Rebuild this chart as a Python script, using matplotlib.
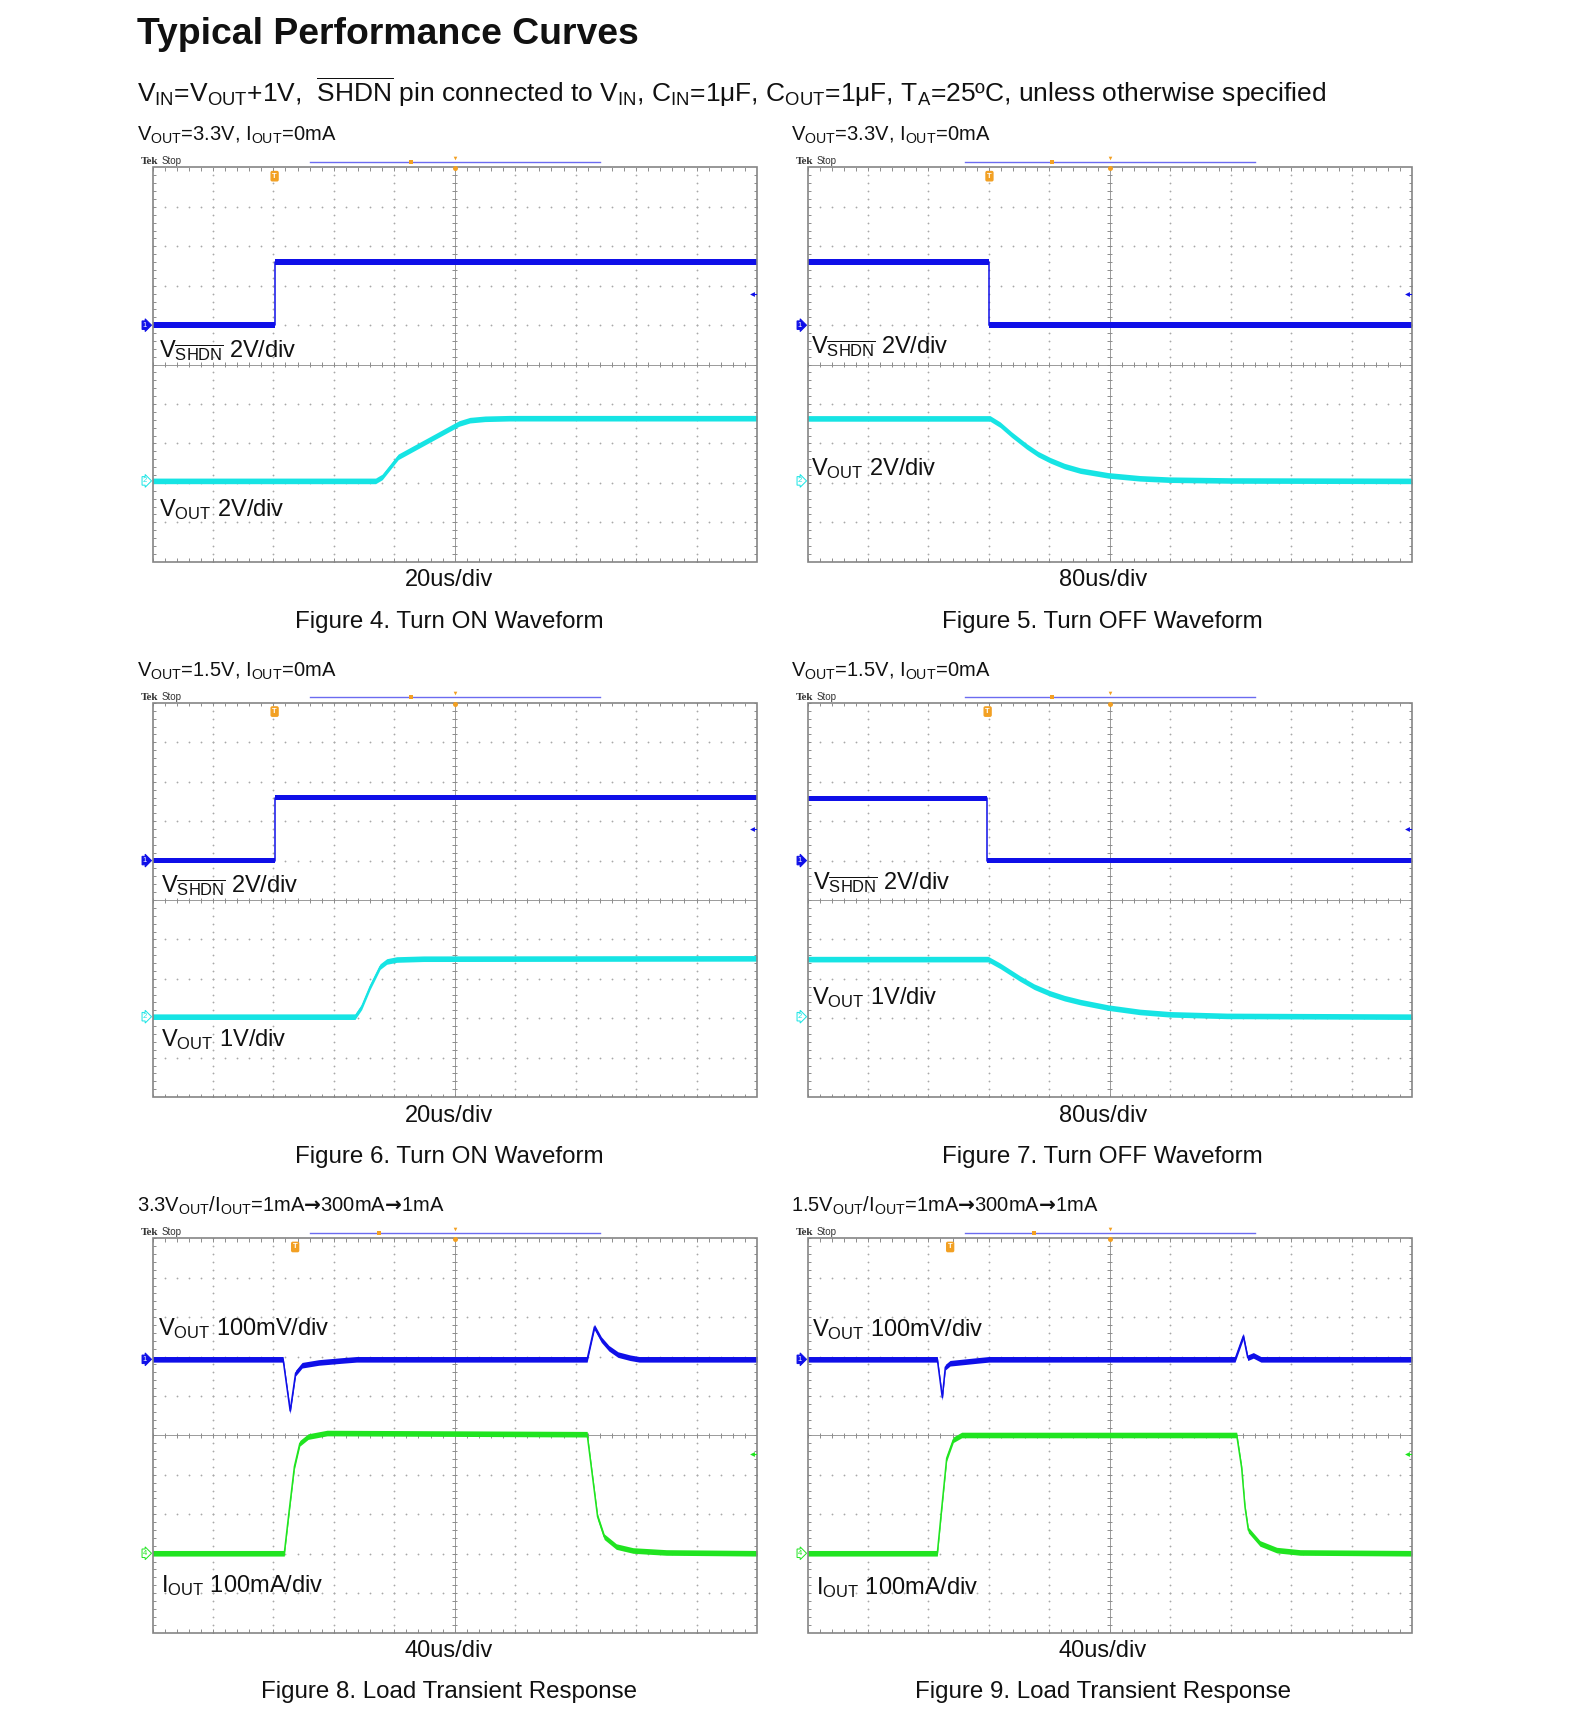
import numpy as np
import matplotlib
matplotlib.use("Agg")
import matplotlib.pyplot as plt
from matplotlib.collections import LineCollection
from matplotlib.patches import Rectangle

plt.rcParams['font.family'] = ['Liberation Sans', 'DejaVu Sans']
plt.rcParams['mathtext.fontset'] = 'custom'
plt.rcParams['mathtext.rm'] = 'Liberation Sans'
plt.rcParams['mathtext.it'] = 'Liberation Sans:italic'
plt.rcParams['mathtext.bf'] = 'DejaVu Sans:bold'
plt.rcParams['mathtext.sf'] = 'Liberation Sans'

# ---------------- data ----------------
# Figure 4 : turn on, VOUT=3.3V, 20us/div
fig4_shdn_t_us = [0, 40.6, 40.6, 200]
fig4_shdn_v = [0, 0, 3.2, 3.2]
fig4_vout_t_us = [0, 73.8, 76.0, 81.3, 101.4, 105.0, 110.0, 118.0, 200]
fig4_vout_v = [0, 0, 0.2, 1.22, 2.91, 3.08, 3.15, 3.18, 3.18]

# Figure 5 : turn off, VOUT=3.3V, 80us/div
fig5_shdn_t_us = [0, 240.8, 240.8, 800]
fig5_shdn_v = [3.2, 3.2, 0, 0]
fig5_vout_t_us = [0, 241.5, 255, 270, 290, 305, 321, 340, 361, 398, 440, 480, 560, 800]
fig5_vout_v = [3.17, 3.17, 2.85, 2.35, 1.75, 1.36, 1.05, 0.75, 0.52, 0.28, 0.13, 0.06, 0.02, 0.0]

# Figure 6 : turn on, VOUT=1.5V, 20us/div
fig6_shdn_t_us = [0, 40.6, 40.6, 200]
fig6_shdn_v = [0, 0, 3.2, 3.2]
fig6_vout_t_us = [0, 67.0, 69.2, 72.0, 75.3, 77.5, 80.8, 89.6, 200]
fig6_vout_v = [0, 0, 0.25, 0.76, 1.27, 1.40, 1.45, 1.47, 1.48]

# Figure 7 : turn off, VOUT=1.5V, 80us/div
fig7_shdn_t_us = [0, 238.0, 238.0, 800]
fig7_shdn_v = [3.15, 3.15, 0, 0]
fig7_vout_t_us = [0, 239, 255, 281, 300, 321, 340, 361, 398, 440, 480, 555, 800]
fig7_vout_v = [1.46, 1.46, 1.29, 0.97, 0.76, 0.59, 0.47, 0.37, 0.23, 0.12, 0.06, 0.02, 0.0]

# Figure 8 : load transient, 3.3V, 40us/div
fig8_vout_t_us = [0, 86.4, 91.1, 94.7, 99, 110, 125, 135, 287.6, 292.4, 297, 302, 308, 316, 322, 400]
fig8_vout_mv = [0, 0, -131, -35, -15, -8, -3, 0, 0, 82, 50, 28, 12, 4, 0, 0]
fig8_iout_t_us = [0, 87.2, 90.5, 93.9, 97.5, 103, 115.5, 287.6, 291.7, 294.5, 298.9, 306.9, 318, 340, 400]
fig8_iout_ma = [0, 0, 110, 220, 279, 296, 305, 302, 178, 93, 42, 17, 7, 2, 0]

# Figure 9 : load transient, 1.5V, 40us/div
fig9_vout_t_us = [0, 85.9, 89.2, 91.2, 94.3, 112, 120, 282.9, 288.4, 291.3, 295, 300, 400]
fig9_vout_mv = [0, 0, -97, -20, -10, -3, 0, 0, 59, 4, 10, 0, 0]
fig9_iout_t_us = [0, 85.9, 88.8, 92.1, 96.5, 102, 284, 287.3, 289.5, 291.7, 299.4, 310.5, 326, 400]
fig9_iout_ma = [0, 0, 114, 241, 288, 300, 300, 216, 117, 59, 25, 8, 2, 0]

# scope settings and texts
time_labels = ['20us/div', '80us/div', '20us/div', '80us/div', '40us/div', '40us/div']
captions = ['Figure 4. Turn ON Waveform', 'Figure 5. Turn OFF Waveform',
            'Figure 6. Turn ON Waveform', 'Figure 7. Turn OFF Waveform',
            'Figure 8. Load Transient Response', 'Figure 9. Load Transient Response']
ARROW = r'$\mathbf{→}$'
headers = [r'V$_{\mathrm{OUT}}$=3.3V, I$_{\mathrm{OUT}}$=0mA', r'V$_{\mathrm{OUT}}$=3.3V, I$_{\mathrm{OUT}}$=0mA',
           r'V$_{\mathrm{OUT}}$=1.5V, I$_{\mathrm{OUT}}$=0mA', r'V$_{\mathrm{OUT}}$=1.5V, I$_{\mathrm{OUT}}$=0mA',
           r'3.3V$_{\mathrm{OUT}}$/I$_{\mathrm{OUT}}$=1mA' + ARROW + '300mA' + ARROW + '1mA',
           r'1.5V$_{\mathrm{OUT}}$/I$_{\mathrm{OUT}}$=1mA' + ARROW + '300mA' + ARROW + '1mA']
SHDN = r'V$_{\overline{\mathrm{SHDN}}}$ 2V/div'
upper_labels = [SHDN, SHDN, SHDN, SHDN, r'V$_{\mathrm{OUT}}$ 100mV/div', r'V$_{\mathrm{OUT}}$ 100mV/div']
lower_labels = [r'V$_{\mathrm{OUT}}$ 2V/div', r'V$_{\mathrm{OUT}}$ 2V/div', r'V$_{\mathrm{OUT}}$ 1V/div',
                r'V$_{\mathrm{OUT}}$ 1V/div', r'I$_{\mathrm{OUT}}$ 100mA/div', r'I$_{\mathrm{OUT}}$ 100mA/div']

# ---------------- layout / style ----------------
W, H = 1569, 1720
PW, PH = 604.5, 394.2
COL_LEFT = [152.5, 807.5]
ROW_TOP = [167.5, 702.9, 1238.3]
ROW_PITCH = 535.4

BLUE = '#0f0fe8'
CYAN = '#16e4e4'
GREEN = '#20e420'
ORANGE = '#f2a023'
GRID = '#a8a8a8'
FRAME = '#858585'
TXT = '#111111'

fig = plt.figure(figsize=(W / 100, H / 100), dpi=100)
fig.patch.set_facecolor('white')


def ftext(x, y, s, size, ha='left', va='baseline', **kw):
    fig.text(x / W, 1 - y / H, s, fontsize=size, ha=ha, va=va, color=kw.pop('color', TXT), **kw)


def label(x, yc, s, size, ha='left', **kw):
    base = yc + 0.355 * size * 100 / 72
    ftext(x, base, s, size, ha=ha, **kw)


def dxp(px):
    return px / (PW / 10)


def dyp(px):
    return px / (PH / 10)


def draw_screen(left, top, traces, trig_x, bar_mark_x, level_y, level_color, markers):
    ax = fig.add_axes([left / W, 1 - (top + PH) / H, PW / W, PH / H])
    ax.set_xlim(0, 10)
    ax.set_ylim(0, 10)
    ax.axis('off')
    fine = np.arange(0, 10.001, 0.2)
    for i in range(1, 10):
        if i == 5:
            continue
        ax.plot(np.full_like(fine, i), fine, ls='none', marker='o', ms=1.3, mew=0, color=GRID)
        ax.plot(fine, np.full_like(fine, i), ls='none', marker='o', ms=1.3, mew=0, color=GRID)
    ax.plot([5, 5], [0, 10], color='#9a9a9a', lw=0.7)
    ax.plot([0, 10], [5, 5], color='#9a9a9a', lw=0.7)
    segs = []
    for f in fine:
        segs.append([(5 - dxp(2.5), f), (5 + dxp(2.5), f)])
        segs.append([(f, 5 - dyp(2.5)), (f, 5 + dyp(2.5))])
        segs.append([(f, 0), (f, dyp(3.5))])
        segs.append([(f, 10), (f, 10 - dyp(3.5))])
        segs.append([(0, f), (dxp(3.5), f)])
        segs.append([(10, f), (10 - dxp(3.5), f)])
    ax.add_collection(LineCollection(segs, colors='#8c8c8c', linewidths=0.7))
    ax.add_patch(Rectangle((0, 0), 10, 10, fill=False, ec=FRAME, lw=1.2, clip_on=False, zorder=5))

    for t, v, tdiv, vdiv, ground, color in traces:
        x = np.asarray(t, float) / tdiv
        y = ground + np.asarray(v, float) / vdiv
        h = dyp(2.8)
        ax.fill_between(x, y - h, y + h, color=color, lw=0, zorder=3)
        ax.plot(x, y, color=color, lw=1.1, zorder=3)

    for txt, ground, color, filled in markers:
        ax.text(-0.09, ground, txt, ha='right', va='center', fontsize=5.5,
                color='white' if filled else color, clip_on=False, zorder=6,
                bbox=dict(boxstyle='rarrow,pad=0.1', fc=color if filled else 'white', ec=color, lw=0.7))

    ax.plot([9.92], [level_y], marker='<', ms=3.5, mew=0, color=level_color, clip_on=False, zorder=6)
    ax.plot([9.92, 9.99], [level_y, level_y], color=level_color, lw=0.8, clip_on=False, zorder=6)

    ax.plot([2.61, 7.41], [10.14, 10.14], color='#6b6bf0', lw=1.0, clip_on=False)
    ax.plot([bar_mark_x], [10.14], marker='s', ms=3.2, mew=0, color=ORANGE, clip_on=False)
    ax.plot([5], [10.24], marker='v', ms=2.6, mew=0, color=ORANGE, clip_on=False)
    ax.plot([5], [9.98], marker='o', ms=3.6, mew=0, color=ORANGE, clip_on=False, zorder=6)
    ax.text(trig_x, 9.78, 'T', fontsize=5.5, color='white', weight='bold', ha='center', va='center',
            zorder=6, bbox=dict(boxstyle='round,pad=0.15', fc=ORANGE, ec=ORANGE))
    fig.text((left - 12) / W, 1 - (top - 3) / H, 'Tek', fontsize=8, weight='bold',
             family='Liberation Serif', color='#333333', va='baseline')
    fig.text((left + 9) / W, 1 - (top - 3) / H, 'Stop', fontsize=7, family='Liberation Sans',
             color='#333333', va='baseline')


# ---------------- header ----------------
ftext(137, 44, 'Typical Performance Curves', 26.9, weight='bold')
label(137, 93, r'V$_{\mathrm{IN}}$=V$_{\mathrm{OUT}}$+1V,  $\overline{\mathrm{SHDN}}$ pin connected to V$_{\mathrm{IN}}$, '
      r'C$_{\mathrm{IN}}$=1μF, C$_{\mathrm{OUT}}$=1μF, T$_{\mathrm{A}}$=25ºC, unless otherwise specified', 19)

# ---------------- screens ----------------
screens = [
    dict(traces=[(fig4_shdn_t_us, fig4_shdn_v, 20, 2.0, 6.0, BLUE), (fig4_vout_t_us, fig4_vout_v, 20, 2.0, 2.05, CYAN)],
         trig=2.02, bar=4.28, lvl=6.79, lc=BLUE, marks=[('1', 6.0, BLUE, True), ('2', 2.05, CYAN, False)],
         up=(159, 349), lo=(159, 508)),
    dict(traces=[(fig5_shdn_t_us, fig5_shdn_v, 80, 2.0, 6.0, BLUE), (fig5_vout_t_us, fig5_vout_v, 80, 2.0, 2.05, CYAN)],
         trig=3.01, bar=4.05, lvl=6.79, lc=BLUE, marks=[('1', 6.0, BLUE, True), ('2', 2.05, CYAN, False)],
         up=(811, 344.5), lo=(811, 467)),
    dict(traces=[(fig6_shdn_t_us, fig6_shdn_v, 20, 2.0, 6.0, BLUE), (fig6_vout_t_us, fig6_vout_v, 20, 1.0, 2.04, CYAN)],
         trig=2.02, bar=4.28, lvl=6.79, lc=BLUE, marks=[('1', 6.0, BLUE, True), ('2', 2.04, CYAN, False)],
         up=(161, 884 - ROW_PITCH), lo=(161, 1038 - ROW_PITCH)),
    dict(traces=[(fig7_shdn_t_us, fig7_shdn_v, 80, 2.0, 6.0, BLUE), (fig7_vout_t_us, fig7_vout_v, 80, 1.0, 2.04, CYAN)],
         trig=2.98, bar=4.05, lvl=6.79, lc=BLUE, marks=[('1', 6.0, BLUE, True), ('2', 2.04, CYAN, False)],
         up=(813, 881 - ROW_PITCH), lo=(812, 996 - ROW_PITCH)),
    dict(traces=[(fig8_vout_t_us, fig8_vout_mv, 40, 100, 6.93, BLUE), (fig8_iout_t_us, fig8_iout_ma, 40, 100, 2.01, GREEN)],
         trig=2.36, bar=3.75, lvl=4.54, lc=GREEN, marks=[('1', 6.93, BLUE, True), ('4', 2.01, GREEN, False)],
         up=(158, 1326.5 - 2 * ROW_PITCH), lo=(161, 1584 - 2 * ROW_PITCH)),
    dict(traces=[(fig9_vout_t_us, fig9_vout_mv, 40, 100, 6.93, BLUE), (fig9_iout_t_us, fig9_iout_ma, 40, 100, 2.01, GREEN)],
         trig=2.36, bar=3.75, lvl=4.54, lc=GREEN, marks=[('1', 6.93, BLUE, True), ('4', 2.01, GREEN, False)],
         up=(812, 1327.6 - 2 * ROW_PITCH), lo=(816, 1585.5 - 2 * ROW_PITCH)),
]

for k, sc in enumerate(screens):
    r, c = divmod(k, 2)
    left = COL_LEFT[c]
    top = ROW_TOP[r]
    off = r * ROW_PITCH
    draw_screen(left, top, sc['traces'], sc['trig'], sc['bar'], sc['lvl'], sc['lc'], sc['marks'])
    hx = 137 if c == 0 else 791
    label(hx, 134 + off, headers[k], 14.5)
    label(sc['up'][0], sc['up'][1] + off, upper_labels[k], 17)
    label(sc['lo'][0], sc['lo'][1] + off, lower_labels[k], 17)
    cx = 449 if c == 0 else 1102.7
    label(cx, 578 + off, time_labels[k], 17, ha='center')
    label(cx, 619 + off, captions[k], 17.4, ha='center')

fig.savefig('out.png', dpi=100, facecolor='white')
